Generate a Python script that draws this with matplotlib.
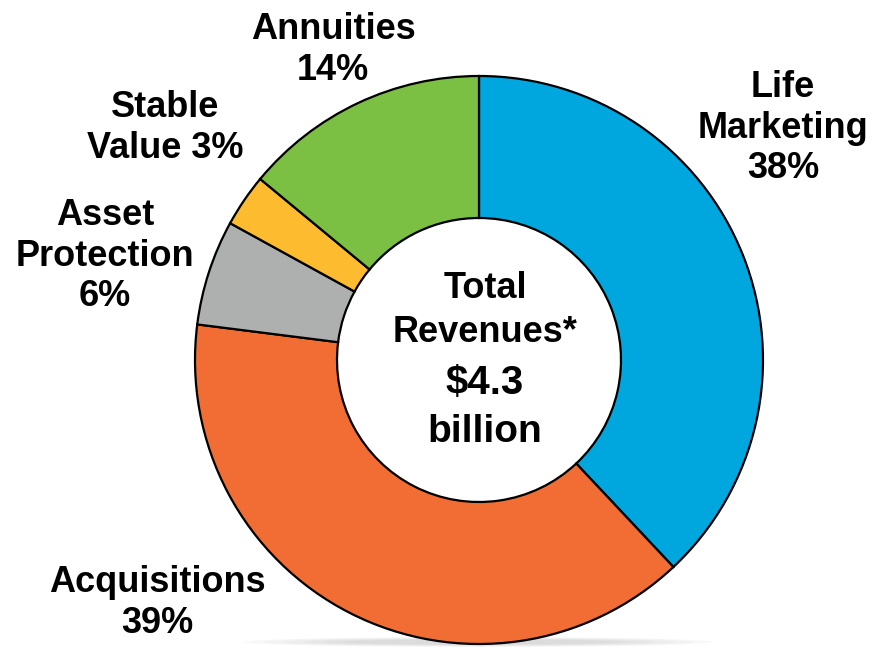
import matplotlib
matplotlib.use("Agg")
import matplotlib.pyplot as plt
from matplotlib.patches import Ellipse

# Revenue mix by segment (share of total, %)
segments = ["Life Marketing", "Acquisitions", "Asset Protection", "Stable Value", "Annuities"]
shares = [38, 39, 6, 3, 14]
seg_colors = ["#00A7DF", "#F26D33", "#AEB0AF", "#FDBB30", "#7CC043"]

label_texts = ["Life\nMarketing\n38%", "Acquisitions\n39%", "Asset\nProtection\n6%",
               "Stable\nValue 3%", "Annuities\n14%"]
total_revenue = 4.3

W, H = 877, 647
FONT = "Liberation Sans"

fig = plt.figure(figsize=(W / 100, H / 100), dpi=100)
fig.patch.set_facecolor("white")
ax = fig.add_axes([0, 0, 1, 1])


def py(y):
    """Pixel row (top-down) to data y."""
    return H - y


cx, cy, r = 479, py(360), 284

# soft shadow under the ring
for i in range(6):
    ax.add_patch(Ellipse((cx, py(642)), 470 - i * 40, 10 - i, color="#888888",
                         alpha=0.05, lw=0, zorder=0))

ax.pie(shares, colors=seg_colors, startangle=90, counterclock=False,
       radius=r, center=(cx, cy),
       wedgeprops=dict(width=r / 2, edgecolor="black", linewidth=1.6))

ax.set_xlim(0, W)
ax.set_ylim(0, H)
ax.set_aspect("equal")
ax.axis("off")

# segment labels
label_pos = [(783, 128), (157, 603), (105, 256), (165, 128), (333, 50)]
for text, (x, y) in zip(label_texts, label_pos):
    ax.text(x, py(y), text, ha="center", va="center", fontsize=26,
            fontweight="bold", family=FONT, linespacing=1.2, color="black")

# centre caption
ax.text(485, py(288), "Total", ha="center", va="center", fontsize=26,
        fontweight="bold", family=FONT)
ax.text(485, py(333), "Revenues*", ha="center", va="center", fontsize=26,
        fontweight="bold", family=FONT)
ax.text(485, py(383), f"${total_revenue:.1f}", ha="center", va="center", fontsize=29,
        fontweight="bold", family=FONT)
ax.text(485, py(432), "billion", ha="center", va="center", fontsize=28,
        fontweight="bold", family=FONT)

fig.savefig("out.png", dpi=100, facecolor="white")
plt.close(fig)
